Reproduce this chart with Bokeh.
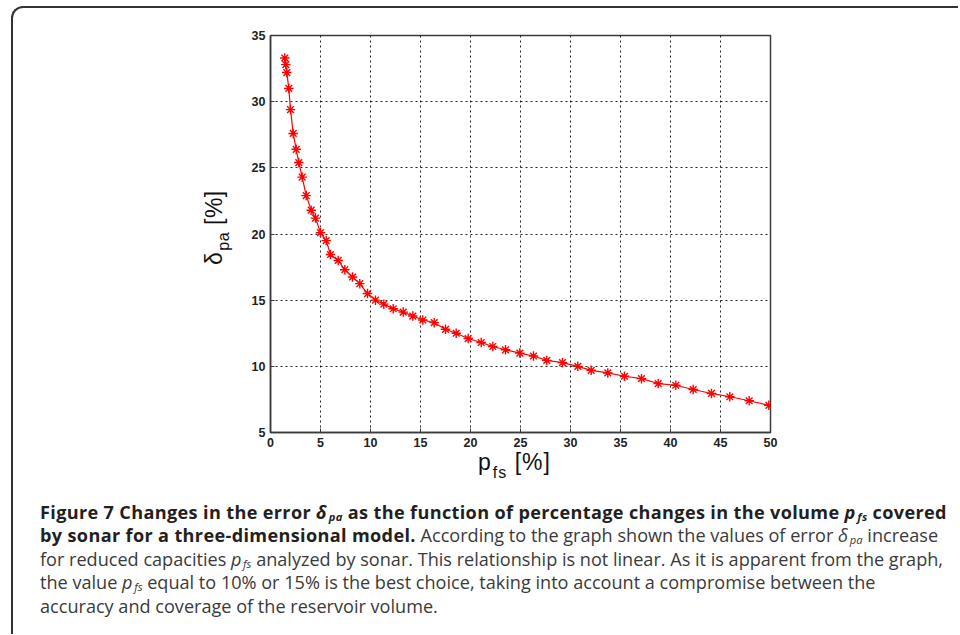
from bokeh.plotting import figure
from bokeh.models import Div, FixedTicker, Range1d
from bokeh.layouts import column, row
from bokeh.embed import file_html
from bokeh.resources import INLINE

# ---- data ----
p_fs = [1.43, 1.53, 1.63, 1.83, 2.0, 2.27, 2.57, 2.83, 3.17, 3.57, 4.07, 4.5, 5.0,
        5.57, 6.0, 6.77, 7.43, 8.2, 8.93, 9.7, 10.5, 11.33, 12.27, 13.27, 14.23,
        15.23, 16.37, 17.5, 18.57, 19.77, 21.07, 22.23, 23.5, 24.93, 26.3, 27.63,
        29.2, 30.73, 32.07, 33.73, 35.4, 37.1, 38.77, 40.53, 42.27, 44.1, 45.93,
        47.87, 49.83]
delta_pa = [33.3, 32.8, 32.2, 31.0, 29.4, 27.6, 26.4, 25.4, 24.3, 22.9, 21.8, 21.2,
            20.1, 19.5, 18.45, 18.0, 17.3, 16.75, 16.25, 15.5, 15.0, 14.7, 14.35,
            14.1, 13.8, 13.5, 13.3, 12.8, 12.5, 12.1, 11.8, 11.5, 11.25, 11.0, 10.78,
            10.45, 10.28, 10.0, 9.7, 9.5, 9.25, 9.07, 8.7, 8.57, 8.25, 7.95, 7.7,
            7.4, 7.05]
x_ticks = [0, 5, 10, 15, 20, 25, 30, 35, 40, 45, 50]
y_ticks = [5, 10, 15, 20, 25, 30, 35]

AX = "#3a3a3a"
FONT = "Liberation Sans"

p = figure(width=708, height=446,
           x_range=Range1d(x_ticks[0], x_ticks[-1]),
           y_range=Range1d(y_ticks[0], y_ticks[-1]),
           output_backend="svg", toolbar_location=None,
           min_border_left=35, min_border_right=173,
           min_border_top=27, min_border_bottom=22)
p.background_fill_color = "white"
p.border_fill_color = "white"
p.outline_line_color = AX
p.outline_line_width = 1.5

for ax, ticks in ((p.xaxis, x_ticks), (p.yaxis, y_ticks)):
    ax.ticker = FixedTicker(ticks=ticks)
    ax.axis_line_color = AX
    ax.axis_line_width = 1.5
    ax.major_tick_in = 4
    ax.major_tick_out = 0
    ax.major_tick_line_color = AX
    ax.minor_tick_line_color = None
    ax.major_label_text_font = FONT
    ax.major_label_text_font_style = "bold"
    ax.major_label_text_font_size = "12.5px"
    ax.major_label_text_color = "#222222"
    ax.major_label_standoff = 5
    ax.axis_label = None

for g in (p.xgrid, p.ygrid):
    g.grid_line_color = "black"
    g.grid_line_alpha = 0.85
    g.grid_line_dash = "2 3"
    g.grid_line_width = 1

p.line(p_fs, delta_pa, line_color="red", line_width=1.2)
p.scatter(p_fs, delta_pa, marker="asterisk", size=9.5, line_color="red", line_width=1.4)

# ---- y axis label (rotated HTML text with subscript) ----
ylab_html = (
    '<div style="position:relative;width:222px;height:446px;">'
    '<div style="position:absolute;left:190px;top:257px;transform:rotate(-90deg);'
    'transform-origin:left top;white-space:nowrap;font-family:\'Liberation Sans\';'
    'font-size:23px;line-height:23px;color:#111;letter-spacing:0.5px;">'
    'δ<sub style="font-size:16px;line-height:0;vertical-align:-7px;margin-left:1px">pa</sub> [%]'
    '</div></div>'
)
ydiv = Div(text=ylab_html, width=222, height=446, margin=0)

# ---- x axis label + caption ----
sub = '<sub style="font-size:62%;line-height:0;vertical-align:-2px;margin-left:0.15em">'
caption = (
    '<div style="position:relative;width:945px;height:180px;">'
    '<div style="position:absolute;left:465px;top:-3px;white-space:nowrap;'
    'font-family:\'Liberation Sans\';font-size:23px;line-height:23px;color:#111;letter-spacing:1px;">'
    'p<sub style="font-size:16px;line-height:0;vertical-align:-8px;margin-left:1px">fs</sub> [%]</div>'
    '<div style="position:absolute;left:27px;top:47px;font-family:\'Open Sans\';'
    'font-size:18.1px;line-height:23.4px;color:#3a3a3a;white-space:nowrap;">'
    '<b style="color:#231f20;letter-spacing:0.35px">Figure 7 Changes in the error <i>δ</i>' + sub + '<i>pa</i></sub> as the function of '
    'percentage changes in the volume <i>p</i>' + sub + '<i>fs</i></sub> covered<br>'
    'by sonar for a three-dimensional model.</b> According to the graph shown the values of error '
    '<i>δ</i>' + sub + '<i>pa</i></sub> increase<br>'
    'for reduced capacities <i>p</i>' + sub + '<i>fs</i></sub> analyzed by sonar. This relationship is not '
    'linear. As it is apparent from the graph,<br>'
    'the value <i>p</i>' + sub + '<i>fs</i></sub> equal to 10% or 15% is the best choice, taking into account '
    'a compromise between the<br>'
    'accuracy and coverage of the reservoir volume.'
    '</div></div>'
)
capdiv = Div(text=caption, width=945, height=180, margin=0)

layout = column(row(ydiv, p), capdiv,
                styles={"border-left": "2px solid #333333",
                        "border-top": "2px solid #333333",
                        "border-top-left-radius": "12px"},
                margin=(6, 0, 0, 11))

open("out.html", "w").write(file_html(layout, INLINE))
